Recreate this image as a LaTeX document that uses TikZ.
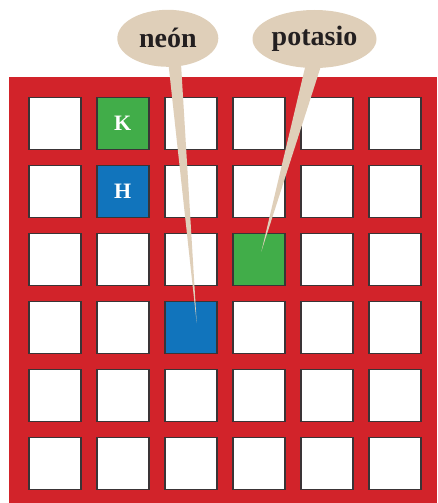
\documentclass[tikz,border=0pt]{standalone}
\usepackage{fontspec}
\setmainfont{Liberation Serif}
\usetikzlibrary{shapes.geometric,calc}

\definecolor{boardred}{HTML}{D2232A}
\definecolor{elemgreen}{HTML}{41AD49}
\definecolor{elemblue}{HTML}{1174BC}
\definecolor{bubbletan}{HTML}{DFCFB9}
\definecolor{inkdark}{HTML}{231F20}
\definecolor{edgegray}{HTML}{3A3436}

\begin{document}
\begin{tikzpicture}[x=1pt, y=-1pt,
    cell/.style={draw=edgegray, line width=1.4pt, fill=white, minimum size=52pt, inner sep=0pt},
    element/.style={cell, text=white, font=\bfseries\fontsize{22}{22}\selectfont},
    bubble/.style={ellipse, fill=bubbletan, inner sep=0pt, text=inkdark, font=\bfseries\fontsize{28}{28}\selectfont}]
    \useasboundingbox (0,0) rectangle (437,503);

    % board
    \fill[boardred] (9,76.7) rectangle (437,503);
    \foreach \r in {1,...,6}
        \foreach \c in {1,...,6}
            \node[cell] (sq-\r-\c) at ({54.8+68*(\c-1)}, {123.2+68*(\r-1)}) {};

    \node[element, fill=elemgreen] (kalium) at (sq-1-2) {K};
    \node[element, fill=elemblue] (hydro) at (sq-2-2) {H};
    \node[element, fill=elemgreen] (potasiocell) at (sq-3-4) {};
    \node[element, fill=elemblue] (neoncell) at (sq-4-3) {};

    % callouts
    \node[bubble, minimum width=101pt, minimum height=57pt] (neon) at (167.8,38.3) {neón};
    \node[bubble, minimum width=124pt, minimum height=58pt] (potasio) at (314.5,39) {potasio};

    \coordinate (neontip) at ($(neoncell.center)+(5.9,-4.2)$);
    \coordinate (potasiotip) at ($(potasiocell.center)+(2.5,-7.5)$);
    \fill[bubbletan] ($(neon.center)+(-0.3,17)$) -- (neontip) -- ($(neon.center)+(12.7,17)$) -- cycle;
    \fill[bubbletan] ($(potasio.center)+(-6.5,16)$) -- (potasiotip) -- ($(potasio.center)+(10,16)$) -- cycle;
\end{tikzpicture}
\end{document}
